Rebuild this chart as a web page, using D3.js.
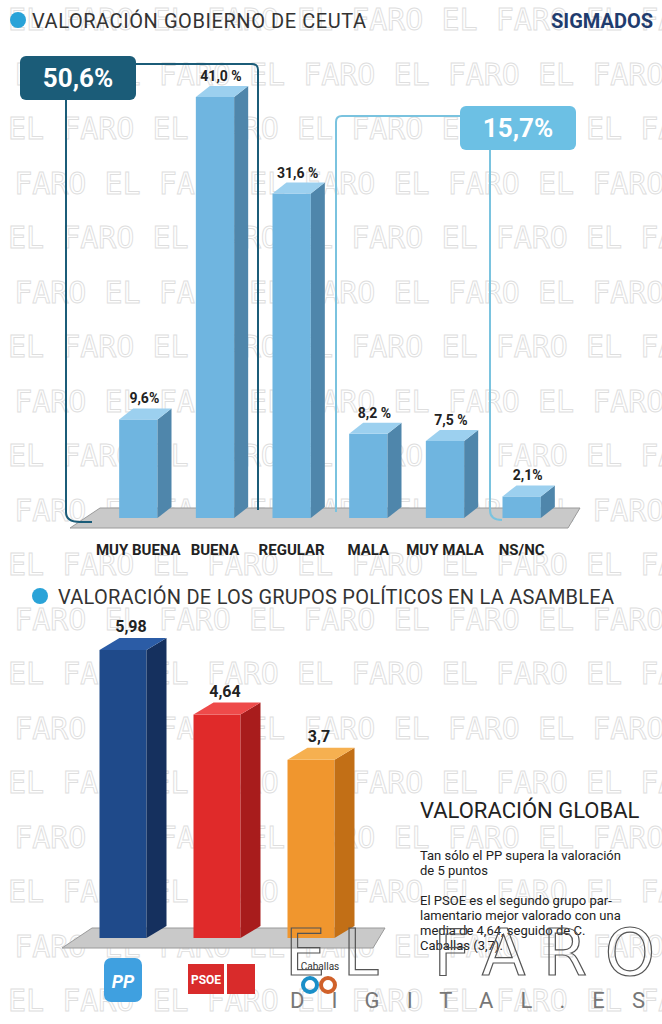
<!DOCTYPE html>
<html><head><meta charset="utf-8">
<script src="https://cdn.jsdelivr.net/npm/d3@7"></script>
<style>body{margin:0;background:#fff}svg{display:block}</style>
</head><body>
<script>
// datos
const categorias = ["MUY BUENA","BUENA","REGULAR","MALA","MUY MALA","NS/NC"];
const valores = [9.6, 41.0, 31.6, 8.2, 7.5, 2.1];
const etiquetas = ["9,6%","41,0 %","31,6 %","8,2 %","7,5 %","2,1%"];
const partidos = ["PP","PSOE","Caballas"];
const notas = [5.98, 4.64, 3.7];
const notasTxt = ["5,98","4,64","3,7"];

const W = 662, H = 1024;
const svg = d3.select("body").append("svg").attr("width", W).attr("height", H)
  .style("font-family", "Roboto, sans-serif");

// marca de agua
const wm = svg.append("g").attr("fill", "none").attr("stroke", "#dedede").attr("stroke-width", 0.9)
  .attr("font-size", 30).attr("font-family", "DejaVu Sans Mono, monospace");
d3.range(19).forEach(r => {
  wm.append("text").attr("x", r % 2 ? -40 : 8).attr("y", 30 + r * 54.5)
    .text("EL FARO EL FARO EL FARO EL FARO EL FARO");
});

function floor(g, x0, x1, yb) {
  g.append("path").attr("d", `M${x0},${yb + 10}L${x0 + 30},${yb - 10}L${x1},${yb - 10}L${x1 - 12},${yb + 10}Z`)
    .attr("fill", "#c9c9c9").attr("stroke", "#9a9a9a");
}
function bar3d(g, x, w, yTop, yb, dx, dy, front, side, top) {
  g.append("rect").attr("x", x).attr("y", yTop).attr("width", w).attr("height", yb - yTop).attr("fill", front);
  g.append("path").attr("d", `M${x + w},${yTop}L${x + w + dx},${yTop - dy}L${x + w + dx},${yb - dy}L${x + w},${yb}Z`).attr("fill", side);
  g.append("path").attr("d", `M${x},${yTop}L${x + dx},${yTop - dy}L${x + w + dx},${yTop - dy}L${x + w},${yTop}Z`).attr("fill", top);
}

// ---- gráfico 1
svg.append("circle").attr("cx", 18).attr("cy", 20).attr("r", 8).attr("fill", "#2aa3d8");
svg.append("text").attr("x", 32).attr("y", 28).attr("font-size", 20).attr("fill", "#333")
  .attr("textLength", 334).text("VALORACIÓN GOBIERNO DE CEUTA");
svg.append("text").attr("x", 653).attr("y", 28).attr("text-anchor", "end").attr("font-size", 20)
  .attr("font-weight", "bold").attr("fill", "#1f3c6e").text("SIGMADOS");

const yb1 = 518;
const x1 = d3.scaleBand().domain(categorias).range([100, 560]).paddingInner(0.5).paddingOuter(0.25);
const y1 = d3.scaleLinear().domain([0, 41]).range([yb1, 97]);
const g1 = svg.append("g");
floor(g1, 70, 580, yb1);

// corchetes
const br = svg.append("g").attr("fill", "none").attr("stroke-width", 2);
br.append("path").attr("d", "M135,64H252Q258,64 258,70V510").attr("stroke", "#1b5c78");
br.append("path").attr("d", "M66,98V512Q66,522 80,522H92").attr("stroke", "#1b5c78");
br.append("path").attr("d", "M462,116H342Q336,116 336,122V512").attr("stroke", "#7ac3df");
br.append("path").attr("d", "M490,150V510Q490,520 502,520").attr("stroke", "#7ac3df");

categorias.forEach((c, i) => {
  const x = x1(c), w = x1.bandwidth();
  bar3d(g1, x, w, y1(valores[i]), yb1, 14, 11, "#6fb5e0", "#4f86ab", "#9cd0ef");
  g1.append("text").attr("x", x + w / 2 + 6).attr("y", y1(valores[i]) - 16).attr("text-anchor", "middle")
    .attr("font-size", 14).attr("font-weight", "bold").attr("fill", "#222").text(etiquetas[i]);
  g1.append("text").attr("x", x + w / 2).attr("y", 555).attr("text-anchor", "middle")
    .attr("font-size", 15).attr("font-weight", "bold").attr("fill", "#222").text(c);
});

svg.append("rect").attr("x", 20).attr("y", 56).attr("width", 116).attr("height", 44).attr("rx", 6).attr("fill", "#1b5c78");
svg.append("text").attr("x", 78).attr("y", 87).attr("text-anchor", "middle").attr("font-size", 26)
  .attr("font-weight", "bold").attr("fill", "#fff").text("50,6%");
svg.append("rect").attr("x", 460).attr("y", 106).attr("width", 116).attr("height", 44).attr("rx", 6).attr("fill", "#6cc0e4");
svg.append("text").attr("x", 518).attr("y", 137).attr("text-anchor", "middle").attr("font-size", 26)
  .attr("font-weight", "bold").attr("fill", "#fff").text("15,7%");

// ---- gráfico 2
svg.append("circle").attr("cx", 40).attr("cy", 596).attr("r", 8).attr("fill", "#2aa3d8");
svg.append("text").attr("x", 58).attr("y", 604).attr("font-size", 20).attr("fill", "#333")
  .attr("textLength", 556).text("VALORACIÓN  DE LOS GRUPOS POLÍTICOS EN LA ASAMBLEA");

const yb2 = 938;
const x2 = d3.scaleBand().domain(partidos).range([76, 358]).paddingInner(0.5).paddingOuter(0.25);
const y2 = d3.scaleLinear().domain([0, 5.98]).range([yb2, 650]);
const g2 = svg.append("g");
floor(g2, 62, 385, yb2);
const cols = [["#1f4a8a", "#15305e", "#2b5ca6"], ["#e02a2a", "#a81c1c", "#ee4a4a"], ["#f0962e", "#c26f16", "#f6b050"]];
partidos.forEach((p, i) => {
  const x = x2(p), w = x2.bandwidth();
  bar3d(g2, x, w, y2(notas[i]), yb2, 20, 12, cols[i][0], cols[i][1], cols[i][2]);
  g2.append("text").attr("x", x + w / 2 + 8).attr("y", y2(notas[i]) - 18).attr("text-anchor", "middle")
    .attr("font-size", 16).attr("font-weight", "bold").attr("fill", "#222").text(notasTxt[i]);
});

// logos
const lg = svg.append("g");
lg.append("rect").attr("x", 104).attr("y", 958).attr("width", 38).attr("height", 44).attr("rx", 7).attr("fill", "#3fa0e0");
lg.append("text").attr("x", 123).attr("y", 988).attr("text-anchor", "middle").attr("font-size", 18)
  .attr("font-weight", "bold").attr("font-style", "italic").attr("fill", "#fff").text("PP");
lg.append("rect").attr("x", 188).attr("y", 964).attr("width", 36).attr("height", 30).attr("fill", "#d92b2b");
lg.append("text").attr("x", 206).attr("y", 984).attr("text-anchor", "middle").attr("font-size", 12)
  .attr("font-weight", "bold").attr("fill", "#fff").text("PSOE");
lg.append("rect").attr("x", 227).attr("y", 964).attr("width", 28).attr("height", 30).attr("fill", "#d92b2b");
lg.append("text").attr("x", 320).attr("y", 970).attr("text-anchor", "middle").attr("font-size", 10).attr("fill", "#333").text("Caballas");
lg.append("circle").attr("cx", 310).attr("cy", 985).attr("r", 7).attr("fill", "none").attr("stroke", "#1a8fc8").attr("stroke-width", 4);
lg.append("circle").attr("cx", 328).attr("cy", 985).attr("r", 7).attr("fill", "none").attr("stroke", "#d0612a").attr("stroke-width", 4);

// texto lateral
svg.append("text").attr("x", 420).attr("y", 818).attr("font-size", 22).attr("fill", "#222").text("VALORACIÓN GLOBAL");
const par = svg.append("g").attr("font-size", 13).attr("fill", "#222");
["Tan sólo el PP supera la valoración", "de 5 puntos", "", "El PSOE es el segundo grupo par-",
 "lamentario mejor valorado con una", "media  de  4,64,  seguido  de  C.", "Caballas (3,7)."]
  .forEach((t, i) => par.append("text").attr("x", 420).attr("y", 860 + i * 15).text(t));

// logo El Faro
const lf = svg.append("g").attr("fill", "none").attr("stroke", "#555").attr("stroke-width", 1.2);
lf.append("text").attr("x", 285).attr("y", 975).attr("font-size", 64).attr("font-family", "DejaVu Sans, sans-serif")
  .attr("textLength", 370).text("EL FARO");
svg.append("text").attr("x", 290).attr("y", 1008).attr("font-size", 22).attr("fill", "#777")
  .attr("textLength", 355).text("D I G I T A L . E S");
</script>
</body></html>
